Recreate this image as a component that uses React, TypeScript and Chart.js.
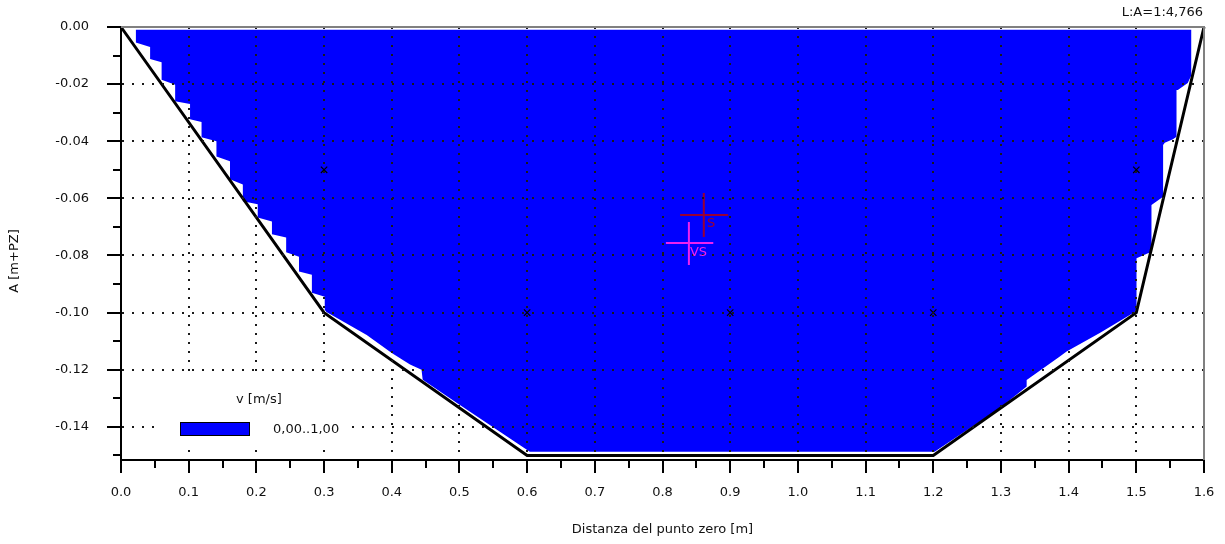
import React, { useEffect, useRef } from "react";
import { Chart, registerables } from "chart.js";

Chart.register(...registerables);

// ---- axis ticks ----
const xTickValues = [0, 0.1, 0.2, 0.3, 0.4, 0.5, 0.6, 0.7, 0.8, 0.9, 1.0, 1.1, 1.2, 1.3, 1.4, 1.5, 1.6];
const xTickLabels = ["0.0", "0.1", "0.2", "0.3", "0.4", "0.5", "0.6", "0.7", "0.8", "0.9", "1.0", "1.1", "1.2", "1.3", "1.4", "1.5", "1.6"];
const xMinorTickValues = [0.05, 0.15, 0.25, 0.35, 0.45, 0.55, 0.65, 0.75, 0.85, 0.95, 1.05, 1.15, 1.25, 1.35, 1.45, 1.55];
const yTickValues = [0, -0.02, -0.04, -0.06, -0.08, -0.1, -0.12, -0.14];
const yTickLabels = ["0.00", "-0.02", "-0.04", "-0.06", "-0.08", "-0.10", "-0.12", "-0.14"];
const yMinorTickValues = [-0.01, -0.03, -0.05, -0.07, -0.09, -0.11, -0.13, -0.15];

// ---- channel profile (black line) ----
const profileX = [0, 0.3, 0.6, 1.2, 1.5, 1.6];
const profileY = [0, -0.1, -0.15, -0.15, -0.1, 0];

// ---- velocity area v = 0,00..1,00 m/s (blue, stepped boundary) ----
const velocityAreaX = [
  0.0217, 0.0217, 0.043, 0.043, 0.06, 0.06, 0.08, 0.08, 0.102, 0.102, 0.119, 0.119, 0.141, 0.141,
  0.161, 0.161, 0.18, 0.18, 0.202, 0.202, 0.223, 0.223, 0.244, 0.244, 0.263, 0.263, 0.282, 0.282,
  0.301, 0.301, 0.3035, 0.363, 0.4, 0.427, 0.444, 0.4457, 0.5007, 0.604, 1.202, 1.298, 1.338, 1.338,
  1.387, 1.397, 1.446, 1.4978, 1.5003, 1.5003, 1.5224, 1.5224, 1.5396, 1.5396, 1.5421, 1.554, 1.5594,
  1.5594, 1.5613, 1.576, 1.5815, 1.5815,
];
const velocityAreaY = [
  -0.001, -0.0054, -0.007, -0.0112, -0.0123, -0.0185, -0.0202, -0.026, -0.027, -0.0323, -0.0333, -0.0386, -0.04, -0.0453,
  -0.047, -0.0533, -0.0551, -0.061, -0.0621, -0.0667, -0.0681, -0.0726, -0.0737, -0.0789, -0.0804, -0.0856, -0.0867, -0.093,
  -0.0944, -0.099, -0.0998, -0.1078, -0.1141, -0.1182, -0.12, -0.1235, -0.1323, -0.1487, -0.1487, -0.1335, -0.1259, -0.1236,
  -0.1154, -0.1136, -0.1071, -0.0998, -0.0984, -0.081, -0.0787, -0.0623, -0.0594, -0.0413, -0.0405, -0.0393, -0.0384,
  -0.0221, -0.0221, -0.0196, -0.0168, -0.001,
];

// ---- measuring verticals (x markers) ----
const markerX = [0.3, 1.5, 0.6, 0.9, 1.2];
const markerY = [-0.05, -0.05, -0.1, -0.1, -0.1];

// ---- centroid crosshairs ----
const sHorizontalX = [0.826, 0.897];
const sHorizontalY = [-0.0658, -0.0658];
const sVerticalX = [0.861, 0.861];
const sVerticalY = [-0.0581, -0.0735];
const sLabel = "S";
const sLabelPos = [0.8656, -0.0688];
const vsHorizontalX = [0.805, 0.875];
const vsHorizontalY = [-0.0756, -0.0756];
const vsVerticalX = [0.839, 0.839];
const vsVerticalY = [-0.0683, -0.0833];
const vsLabel = "VS";
const vsLabelPos = [0.8405, -0.079];

// ---- texts ----
const xTitle = "Distanza del punto zero [m]";
const yTitle = "A [m+PZ]";
const scaleLabel = "L:A=1:4,766";
const legendTitle = "v [m/s]";
const legendEntries = ["0,00..1,00"];

const FONT = "DejaVu Sans";
const TEXT_COLOR = "#111";
const BLUE = "#0000ff";
const S_COLOR = "#990033";
const VS_COLOR = "#ee22ee";

const pts = (xs: number[], ys: number[]) => xs.map((x, i) => ({ x, y: ys[i] }));

const overlayPlugin = {
  id: "overlay",
  afterDraw(chart: any) {
    const { ctx, chartArea, scales } = chart;
    const xs = scales.x;
    const ys = scales.y;
    ctx.save();
    // frame top/right
    ctx.strokeStyle = "#808080";
    ctx.lineWidth = 2;
    ctx.beginPath();
    ctx.moveTo(chartArea.left, chartArea.top);
    ctx.lineTo(chartArea.right, chartArea.top);
    ctx.lineTo(chartArea.right, chartArea.bottom);
    ctx.stroke();

    // tick marks
    ctx.strokeStyle = "#000";
    ctx.lineWidth = 2;
    ctx.beginPath();
    xTickValues.forEach((v) => {
      const px = Math.round(xs.getPixelForValue(v));
      ctx.moveTo(px, chartArea.bottom);
      ctx.lineTo(px, chartArea.bottom + 13);
    });
    xMinorTickValues.forEach((v) => {
      const px = Math.round(xs.getPixelForValue(v));
      ctx.moveTo(px, chartArea.bottom);
      ctx.lineTo(px, chartArea.bottom + 8);
    });
    yTickValues.forEach((v) => {
      const py = Math.round(ys.getPixelForValue(v));
      ctx.moveTo(chartArea.left - 14, py);
      ctx.lineTo(chartArea.left, py);
    });
    yMinorTickValues.forEach((v) => {
      const py = Math.round(ys.getPixelForValue(v));
      ctx.moveTo(chartArea.left - 8, py);
      ctx.lineTo(chartArea.left, py);
    });
    ctx.stroke();

    // crosshair labels
    ctx.font = `13px "${FONT}"`;
    ctx.textBaseline = "middle";
    ctx.textAlign = "left";
    ctx.fillStyle = S_COLOR;
    ctx.fillText(sLabel, xs.getPixelForValue(sLabelPos[0]), ys.getPixelForValue(sLabelPos[1]));
    ctx.fillStyle = VS_COLOR;
    ctx.fillText(vsLabel, xs.getPixelForValue(vsLabelPos[0]), ys.getPixelForValue(vsLabelPos[1]));

    // legend (white box hides the grid behind it)
    ctx.fillStyle = "#fff";
    ctx.fillRect(156, 378, 194, 66);
    ctx.fillStyle = TEXT_COLOR;
    ctx.fillText(legendTitle, 236, 400);
    ctx.fillStyle = BLUE;
    ctx.fillRect(180, 422, 70, 14);
    ctx.strokeStyle = "#000";
    ctx.lineWidth = 1;
    ctx.strokeRect(180.5, 422.5, 69, 13);
    ctx.fillStyle = TEXT_COLOR;
    ctx.fillText(legendEntries[0], 273, 430);

    // scale label top-right
    ctx.textAlign = "right";
    ctx.fillText(scaleLabel, 1203, 13);

    // y title
    ctx.save();
    ctx.translate(15, 261);
    ctx.rotate(-Math.PI / 2);
    ctx.textAlign = "center";
    ctx.fillText(yTitle, 0, 0);
    ctx.restore();

    ctx.restore();
  },
};

export default function App() {
  const canvasRef = useRef<HTMLCanvasElement>(null);

  useEffect(() => {
    if (!canvasRef.current) return;
    const chart = new Chart(canvasRef.current, {
      type: "line",
      data: {
        datasets: [
          {
            label: "markers",
            data: pts(markerX, markerY),
            showLine: false,
            pointStyle: "crossRot",
            pointRadius: 4.5,
            pointBorderWidth: 1.2,
            pointBorderColor: "#000",
            pointBackgroundColor: "#000",
            order: 0,
          },
          {
            label: "S h",
            data: pts(sHorizontalX, sHorizontalY),
            borderColor: S_COLOR,
            borderWidth: 2,
            pointRadius: 0,
            order: 1,
          },
          {
            label: "S v",
            data: pts(sVerticalX, sVerticalY),
            borderColor: S_COLOR,
            borderWidth: 2,
            pointRadius: 0,
            order: 1,
          },
          {
            label: "VS h",
            data: pts(vsHorizontalX, vsHorizontalY),
            borderColor: VS_COLOR,
            borderWidth: 2,
            pointRadius: 0,
            order: 1,
          },
          {
            label: "VS v",
            data: pts(vsVerticalX, vsVerticalY),
            borderColor: VS_COLOR,
            borderWidth: 2,
            pointRadius: 0,
            order: 1,
          },
          {
            label: "profile",
            data: pts(profileX, profileY),
            borderColor: "#000",
            borderWidth: 3,
            pointRadius: 0,
            clip: 4,
            order: 2,
          },
          {
            label: "v 0,00..1,00",
            data: pts(velocityAreaX, velocityAreaY),
            borderWidth: 0,
            borderColor: BLUE,
            backgroundColor: BLUE,
            pointRadius: 0,
            fill: { value: -0.001 },
            order: 3,
          },
        ],
      },
      options: {
        animation: false,
        responsive: false,
        events: [],
        layout: { padding: { top: 27, right: 21, left: 0, bottom: 0 } },
        plugins: { legend: { display: false }, tooltip: { enabled: false } },
        elements: { line: { tension: 0 } },
        scales: {
          x: {
            type: "linear",
            min: 0,
            max: 1.6,
            afterFit: (s: any) => {
              s.height = 84;
            },
            afterBuildTicks: (s: any) => {
              s.ticks = xTickValues.map((v) => ({ value: v }));
            },
            ticks: {
              autoSkip: false,
              maxRotation: 0,
              padding: 2,
              color: TEXT_COLOR,
              font: { family: FONT, size: 13 },
              callback: (_v: any, i: number) => xTickLabels[i],
            },
            grid: {
              z: 1,
              drawTicks: true,
              tickLength: 23,
              tickWidth: 0,
              tickColor: "rgba(0,0,0,0)",
              lineWidth: 2,
              color: (c: any) =>
                c.tick && (c.tick.value === 0 || c.tick.value === 1.6) ? "rgba(0,0,0,0)" : "#1a1a1a",
            },
            border: { display: true, color: "#000", width: 2, dash: [2, 7], z: 2 },
            title: {
              display: true,
              text: xTitle,
              color: TEXT_COLOR,
              font: { family: FONT, size: 13 },
              padding: { top: 0, bottom: 7 },
            },
          },
          y: {
            type: "linear",
            min: -0.1516,
            max: 0,
            afterFit: (s: any) => {
              s.width = 121;
            },
            afterBuildTicks: (s: any) => {
              s.ticks = yTickValues.map((v) => ({ value: v }));
            },
            ticks: {
              autoSkip: false,
              padding: 2,
              color: TEXT_COLOR,
              font: { family: FONT, size: 13 },
              callback: (_v: any, i: number) => yTickLabels[i],
            },
            grid: {
              z: 1,
              drawTicks: true,
              tickLength: 30,
              tickWidth: 0,
              tickColor: "rgba(0,0,0,0)",
              lineWidth: 2,
              color: (c: any) => (c.tick && c.tick.value === 0 ? "rgba(0,0,0,0)" : "#1a1a1a"),
            },
            border: { display: true, color: "#000", width: 2, dash: [2, 8], z: 2 },
          },
        },
      },
      plugins: [overlayPlugin],
    } as any);
    return () => chart.destroy();
  }, []);

  return (
    <div style={{ position: "fixed", left: 0, top: 0, width: 1225, height: 544, background: "#fff" }}>
      <canvas ref={canvasRef} width={1225} height={544} style={{ display: "block" }} />
    </div>
  );
}
